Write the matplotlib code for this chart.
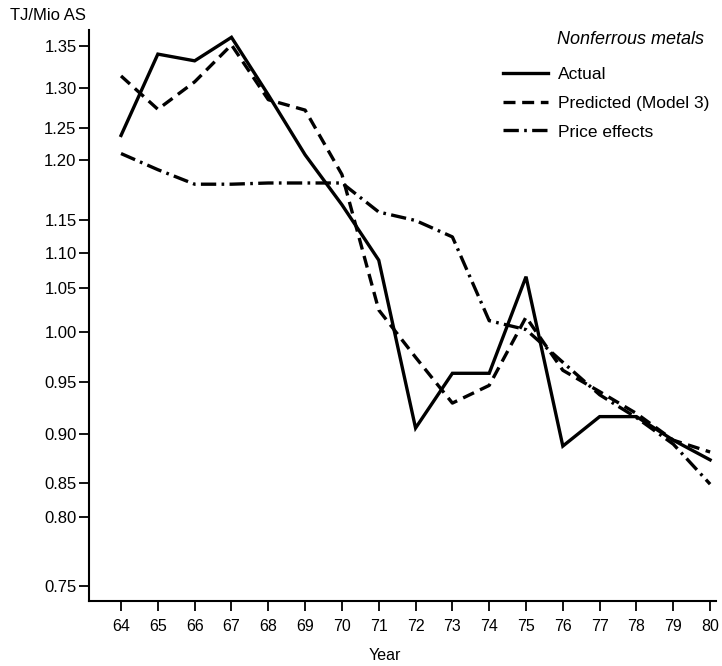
import numpy as np
import matplotlib
matplotlib.use("Agg")
import matplotlib.pyplot as plt

# ---- data -------------------------------------------------------------
years = [64, 65, 66, 67, 68, 69, 70, 71, 72, 73, 74, 75, 76, 77, 78, 79, 80]
actual = [1.238, 1.340, 1.332, 1.360, 1.291, 1.208, 1.163, 1.090, 0.906,
          0.959, 0.959, 1.066, 0.888, 0.917, 0.917, 0.894, 0.874]
predicted = [1.314, 1.273, 1.307, 1.351, 1.285, 1.272, 1.188, 1.025, 0.975,
             0.930, 0.947, 1.017, 0.962, 0.941, 0.920, 0.894, 0.882]
price_effects = [1.210, 1.192, 1.180, 1.180, 1.181, 1.181, 1.181, 1.157, 1.150,
                 1.125, 1.013, 1.003, 0.970, 0.938, 0.916, 0.890, 0.849]
y_ticks = [0.75, 0.80, 0.85, 0.90, 0.95, 1.00, 1.05, 1.10, 1.15, 1.20, 1.25, 1.30, 1.35]
series_labels = ["Actual", "Predicted (Model 3)", "Price effects"]

# ---- hand-drawn (non-uniform) value axis -------------------------------
# value -> relative height along the axis, piecewise linear
scale_vals = [0.70, 0.75, 0.80, 0.85, 0.90, 0.95, 1.00, 1.05, 1.10, 1.15, 1.20,
              1.25, 1.30, 1.35, 1.40]
scale_pos = [-53.7, 15.3, 84.3, 117.5, 166.7, 218.7, 268.7, 313.3, 347.7, 380.5,
             441.0, 473.3, 513.3, 555.3, 597.3]


def fwd(v):
    return np.interp(v, scale_vals, scale_pos)


def inv(h):
    return np.interp(h, scale_pos, scale_vals)


plt.rcParams["font.family"] = ["Liberation Sans", "DejaVu Sans"]

W, H = 722, 666
fig = plt.figure(figsize=(W / 100, H / 100), dpi=100)
ax = fig.add_axes([89 / W, 1 - 601 / H, (716 - 89) / W, (601 - 30) / H])

ax.set_yscale("function", functions=(fwd, inv))
ax.set_ylim(0.7389, 1.3687)
ax.set_xlim(63.13, 80.16)

lw = 2.4
ax.plot(years, actual, color="black", lw=lw, solid_joinstyle="miter",
        label=series_labels[0])
ax.plot(years, predicted, color="black", lw=lw, linestyle=(0, (3.6, 2.0)),
        label=series_labels[1])
ax.plot(years, price_effects, color="black", lw=lw,
        linestyle=(0, (4.6, 1.6, 0.8, 1.6)), label=series_labels[2])

ax.set_yticks(y_ticks)
ax.set_yticklabels([f"{v:.2f}" for v in y_ticks])
ax.set_xticks(years)
ax.set_xticklabels([str(y) for y in years])
ax.yaxis.set_minor_locator(matplotlib.ticker.NullLocator())

ax.tick_params(axis="both", direction="out", width=1.3, colors="black")
ax.tick_params(axis="y", length=7, pad=2, labelsize=12)
ax.tick_params(axis="x", length=7, pad=6, labelsize=11.5)

for side in ("top", "right"):
    ax.spines[side].set_visible(False)
for side in ("left", "bottom"):
    ax.spines[side].set_linewidth(1.5)

fig.text(48 / W, 1 - 15 / H, "TJ/Mio AS", ha="center", va="center",
         fontsize=12)
fig.text(385 / W, 1 - 655 / H, "Year", ha="center", va="center",
         fontsize=11.5)

leg = ax.legend(loc="upper left", bbox_to_anchor=(503 / W, 1 - 67 / H),
                bbox_transform=fig.transFigure, frameon=False,
                fontsize=12.5, handlelength=2.6, handletextpad=0.55,
                labelspacing=0.78, borderaxespad=0, borderpad=0)
fig.text(557 / W, 1 - 40 / H, "Nonferrous metals", ha="left", va="center",
         fontsize=13, style="italic")

fig.savefig("out.png", dpi=100)
